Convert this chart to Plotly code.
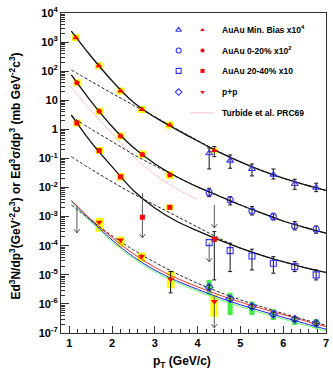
import plotly.graph_objects as go

# ---------------- data ----------------
# AuAu Min. Bias x10^4
mb_red_x = [1.155, 1.69, 2.2, 2.7, 3.35, 4.39]
mb_red_y = [1413, 155, 20.9, 4.79, 1.41, 0.186]
mb_red_sys = [0.12, 0.12, 0.12, 0.12, 0.12, 0.09]      # half height of box, decades
mb_blue_x = [4.27, 4.76, 5.27, 5.77, 6.27, 6.77]
mb_blue_y = [0.151, 0.0839, 0.0436, 0.0277, 0.0133, 0.00993]
mb_blue_hi = [0.230, 0.132, 0.0643, 0.0433, 0.0193, 0.0141]
mb_blue_lo = [0.0436, 0.0460, 0.0251, 0.0196, 0.00875, 0.00723]

# AuAu 0-20% x10^2
c020_red_x = [1.18, 1.70, 2.2, 2.71, 3.35]
c020_red_y = [39.8, 4.17, 0.589, 0.138, 0.0269]
c020_red_sys = [0.12, 0.12, 0.12, 0.13, 0.13]
c020_blue_x = [4.27, 4.76, 5.27, 5.77, 6.27, 6.77]
c020_blue_y = [0.00668, 0.00375, 0.00157, 0.00100, 0.000479, 0.000369]
c020_blue_hi = [0.00946, 0.00486, 0.00221, 0.00131, 0.000673, 0.000479]
c020_blue_lo = [0.00486, 0.00252, 0.00114, 0.000771, 0.000349, 0.000269]

# AuAu 20-40% x10
c2040_red_x = [1.18, 1.70, 2.2, 2.71, 3.35, 4.39]
c2040_red_y = [1.66, 0.186, 0.0234, 0.000955, 0.00209, 0.000166]
c2040_red_sys = [0.12, 0.12, 0.13, 0.0, 0.10, 0.08]
c2040_blue_x = [4.27, 4.76, 5.27, 5.77, 6.27, 6.77]
c2040_blue_y = [1.28e-4, 6.79e-5, 4.46e-5, 2.51e-5, 1.91e-5, 9.93e-6]
c2040_blue_hi = [1.28e-4, 1.22e-4, 7.59e-5, 4.22e-5, 2.84e-5, 1.47e-5]
c2040_blue_lo = [1.28e-4, 1.29e-5, 1.47e-5, 1.14e-5, 1.29e-5, 6.68e-6]

# p+p
pp_red_x = [1.70, 2.2, 2.69, 3.37, 4.39]
pp_red_y = [6.46e-4, 1.58e-4, 4.27e-5, 7.08e-6, 1.20e-6]
pp_red_syslo = [3.05e-4, 9.31e-5, 2.84e-5, 3.47e-6, 3.63e-7]
pp_red_syshi = [9.02e-4, 2.06e-4, 5.79e-5, 1.29e-5, 2.04e-6]
pp_blue_x = [4.27, 4.76, 5.27, 5.77, 6.27, 6.77]
pp_blue_y = [3.75e-6, 1.49e-6, 8.07e-7, 4.43e-7, 2.98e-7, 2.17e-7]
pp_blue_syslo = [2.04e-6, 4.19e-7, 4.19e-7, 2.82e-7, 1.90e-7, 1.46e-7]
pp_blue_syshi = [6.68e-6, 2.44e-6, 1.20e-6, 6.58e-7, 3.87e-7, 2.98e-7]
pp_blue_hi = [4.5e-6, 1.8e-6, 9.7e-7, 5.3e-7, 3.6e-7, 2.6e-7]
pp_blue_lo = [3.1e-6, 1.24e-6, 6.7e-7, 3.7e-7, 2.5e-7, 1.8e-7]

# extra black error bars on single red points
extra_err_x = [4.39, 4.39, 3.37]
extra_err_y = [0.186, 0.000166, 7.08e-6]
extra_err_hi = [0.255, 3.05e-4, 1.29e-5]
extra_err_lo = [0.115, 6.68e-6, 2.39e-6]

# upper limits (arrows)
arrow_x = [1.18, 2.71, 4.39, 4.27, 4.39]
arrow_top = [2.21e-3, 6.37e-3, 2.51e-3, 1.28e-4, 1.78e-6]
arrow_bottom = [2.75e-4, 1.86e-4, 4.07e-4, 2.77e-5, 1.50e-7]

# fit curves (log10 of the value)
fit_x = [1.05, 1.5, 2.0, 2.5, 3.0, 3.5, 4.0, 4.5, 5.0, 5.5, 6.0, 6.5, 7.0]
mb_fit_log10 = [3.38, 2.53, 1.67, 0.93, 0.42, 0.0, -0.4, -0.78, -1.12, -1.42, -1.68, -1.9, -2.1]
mb_ppfit_log10 = [2.04, 1.66, 1.24, 0.83, 0.43, 0.02, -0.38, -0.77, -1.12, -1.42, -1.68, -1.9, -2.1]
c020_fit_log10 = [1.87, 0.98, 0.1, -0.62, -1.18, -1.62, -1.98, -2.29, -2.6, -2.88, -3.15, -3.37, -3.57]
c020_ppfit_log10 = [0.44, 0.02, -0.42, -0.86, -1.25, -1.62, -1.98, -2.29, -2.6, -2.88, -3.15, -3.37, -3.57]
c2040_fit_log10 = [0.5, -0.42, -1.28, -2.1, -2.7, -3.15, -3.49, -3.8, -4.08, -4.33, -4.55, -4.75, -4.92]
c2040_ppfit_log10 = [-0.94, -1.36, -1.8, -2.22, -2.6, -2.98, -3.36, -3.74, -4.08, -4.33, -4.55, -4.75, -4.92]
pp_fit_blue_log10 = [-2.45, -3.12, -3.8, -4.38, -4.84, -5.2, -5.5, -5.78, -6.03, -6.25, -6.46, -6.67, -6.87]
pp_fit_red_log10 = [-2.44, -3.08, -3.72, -4.28, -4.74, -5.11, -5.41, -5.69, -5.94, -6.16, -6.37, -6.58, -6.78]
pp_fit_green_log10 = [-2.49, -3.17, -3.86, -4.44, -4.9, -5.26, -5.56, -5.84, -6.09, -6.31, -6.52, -6.73, -6.93]
pp_ppfit_log10 = [-2.6, -3.12, -3.66, -4.14, -4.57, -4.95, -5.29, -5.59, -5.86, -6.1, -6.33, -6.54, -6.74]
turbide_x = [1.02, 1.5, 2.0, 2.5, 3.0, 3.5, 3.98]
turbide_log10 = [1.49, 0.66, -0.13, -0.93, -1.55, -2.03, -2.4]

# axis ticks
y_tick_exp = [-7, -6, -5, -4, -3, -2, -1, 0, 1, 2, 3, 4]
y_tick_text = ["10<sup>-7</sup>", "10<sup>-6</sup>", "10<sup>-5</sup>", "10<sup>-4</sup>",
               "10<sup>-3</sup>", "10<sup>-2</sup>", "10<sup>-1</sup>", "1", "10",
               "10<sup>2</sup>", "10<sup>3</sup>", "10<sup>4</sup>"]
x_ticks = [1, 2, 3, 4, 5, 6, 7]

legend_labels = ["AuAu Min. Bias x10<sup>4</sup>", "AuAu 0-20% x10<sup>2</sup>",
                 "AuAu 20-40% x10", "p+p", "Turbide et al. PRC69"]

# ---------------- styling ----------------
RED = "#ff0000"
BLUE = "#3333ff"
YELLOW = "#ffff00"
GREEN = "#44ee44"
FONT = "Liberation Sans"

fig = go.Figure()


def box_path(xs, lo, hi, hw):
    X, Y = [], []
    for x, l, h in zip(xs, lo, hi):
        X += [x - hw, x + hw, x + hw, x - hw, x - hw, None]
        Y += [l, l, h, h, l, None]
    return X, Y


def add_boxes(xs, lo, hi, hw, color):
    X, Y = box_path(xs, lo, hi, hw)
    fig.add_trace(go.Scatter(x=X, y=Y, mode="lines", fill="toself", fillcolor=color,
                             line=dict(width=0, color=color), hoverinfo="skip", showlegend=False))


# systematic boxes
for xs, ys, s in [(mb_red_x, mb_red_y, mb_red_sys), (c020_red_x, c020_red_y, c020_red_sys),
                  (c2040_red_x, c2040_red_y, c2040_red_sys)]:
    xx = [x for x, d in zip(xs, s) if d > 0]
    lo = [y / 10 ** d for y, d in zip(ys, s) if d > 0]
    hi = [y * 10 ** d for y, d in zip(ys, s) if d > 0]
    add_boxes(xx, lo, hi, 0.09, YELLOW)
add_boxes(pp_red_x, pp_red_syslo, pp_red_syshi, 0.09, YELLOW)
add_boxes(pp_blue_x, pp_blue_syslo, pp_blue_syshi, 0.06, GREEN)


def add_curve(x, ylog, color, width, dash="solid"):
    fig.add_trace(go.Scatter(x=x, y=[10 ** v for v in ylog], mode="lines", line_shape="spline",
                             line=dict(color=color, width=width, dash=dash),
                             hoverinfo="skip", showlegend=False))


add_curve(fit_x, pp_fit_green_log10, "#66ff66", 1.0)
add_curve(fit_x, pp_fit_blue_log10, "#2222ff", 1.0)
add_curve(fit_x, pp_fit_red_log10, "#ff3333", 1.0)
add_curve(turbide_x, turbide_log10, "#ff6666", 0.8, "1px,1px")
for solid, dashed in [(mb_fit_log10, mb_ppfit_log10), (c020_fit_log10, c020_ppfit_log10),
                      (c2040_fit_log10, c2040_ppfit_log10)]:
    add_curve(fit_x, dashed, "#222222", 1.0, "3px,2px")
    add_curve(fit_x, solid, "#111111", 1.3)
add_curve(fit_x, pp_ppfit_log10, "#222222", 1.0, "3px,2px")


def add_err(xs, ys, hi, lo):
    fig.add_trace(go.Scatter(x=xs, y=ys, mode="markers", marker=dict(size=1, color="rgba(0,0,0,0)"),
                             error_y=dict(type="data", symmetric=False,
                                          array=[h - y for h, y in zip(hi, ys)],
                                          arrayminus=[y - l for l, y in zip(lo, ys)],
                                          color="#111111", thickness=1, width=2),
                             hoverinfo="skip", showlegend=False))


add_err(mb_blue_x, mb_blue_y, mb_blue_hi, mb_blue_lo)
add_err(c020_blue_x, c020_blue_y, c020_blue_hi, c020_blue_lo)
add_err(c2040_blue_x[1:], c2040_blue_y[1:], c2040_blue_hi[1:], c2040_blue_lo[1:])
add_err(pp_blue_x, pp_blue_y, pp_blue_hi, pp_blue_lo)
add_err(extra_err_x, extra_err_y, extra_err_hi, extra_err_lo)

# arrows
AX, AY = [], []
head_dx, head_f = 0.065, 10 ** 0.13
for x, t, b in zip(arrow_x, arrow_top, arrow_bottom):
    AX += [x, x, None, x - head_dx, x, x + head_dx, None]
    AY += [t, b, None, b * head_f, b, b * head_f, None]
fig.add_trace(go.Scatter(x=AX, y=AY, mode="lines", line=dict(color="#555555", width=1),
                         hoverinfo="skip", showlegend=False))


# markers
def add_markers(xs, ys, symbol, color, size, open_=False, xa="x", ya="y"):
    if open_:
        m = dict(symbol=symbol, size=size, color=color, line=dict(color=color, width=1.1))
    else:
        m = dict(symbol=symbol, size=size, color=color, line=dict(width=0))
    fig.add_trace(go.Scatter(x=xs, y=ys, mode="markers", marker=m, xaxis=xa, yaxis=ya,
                             hoverinfo="skip", showlegend=False))


add_markers(mb_red_x, mb_red_y, "triangle-up", RED, 6)
add_markers(c020_red_x, c020_red_y, "circle", RED, 5)
add_markers(c2040_red_x, c2040_red_y, "square", RED, 5)
add_markers(pp_red_x, pp_red_y, "triangle-down", RED, 6)
add_markers(mb_blue_x, mb_blue_y, "triangle-up-open", BLUE, 6, True)
add_markers(c020_blue_x, c020_blue_y, "circle-open", BLUE, 6, True)
add_markers(c2040_blue_x, c2040_blue_y, "square-open", BLUE, 6, True)
add_markers(pp_blue_x, pp_blue_y, "diamond-open", BLUE, 6, True)

# ---------------- legend (overlay axis in plot-area fractions) ----------------
leg_rows = [0.947, 0.883, 0.819, 0.753, 0.688]
leg_blue_x, leg_red_x, leg_text_x = 0.444, 0.534, 0.599
blue_syms = ["triangle-up-open", "circle-open", "square-open", "diamond-open"]
red_syms = ["triangle-up", "circle", "square", "triangle-down"]
for i in range(4):
    add_markers([leg_blue_x], [leg_rows[i]], blue_syms[i], BLUE, 5, True, "x2", "y2")
    add_markers([leg_red_x], [leg_rows[i]], red_syms[i], RED, 4, False, "x2", "y2")
fig.add_trace(go.Scatter(x=[0.489, 0.575], y=[leg_rows[4]] * 2, mode="lines",
                         line=dict(color="#ff6666", width=0.8, dash="1px,1px"),
                         xaxis="x2", yaxis="y2", hoverinfo="skip", showlegend=False))

annotations = []
for lab, yy in zip(legend_labels, leg_rows):
    annotations.append(dict(x=leg_text_x, y=yy, xref="paper", yref="paper", text=lab,
                            showarrow=False, xanchor="left", yanchor="middle",
                            font=dict(family=FONT, size=8.5, color="black", weight="bold")))
annotations.append(dict(x=-0.172, y=0.49, xref="paper", yref="paper",
                        text="Ed<sup>3</sup>N/dp<sup>3</sup>(GeV<sup>-2</sup>c<sup>3</sup>) or "
                             "Ed<sup>3</sup>σ/dp<sup>3</sup> (mb GeV<sup>-2</sup>c<sup>3</sup>)",
                        textangle=-90, showarrow=False, xanchor="center", yanchor="middle",
                        font=dict(family=FONT, size=12, color="black", weight="bold")))
annotations.append(dict(x=(183 - 61) / 268, y=(333 - 362) / 320, xref="paper", yref="paper",
                        text="p<sub>T</sub> (GeV/c)", showarrow=False,
                        xanchor="center", yanchor="middle",
                        font=dict(family=FONT, size=12, color="black", weight="bold")))

axis_common = dict(showline=True, linecolor="#333333", linewidth=1, mirror=True,
                   showgrid=False, zeroline=False, ticks="inside", tickcolor="#333333")

fig.update_layout(
    width=333, height=375,
    margin=dict(l=61, r=4, t=13, b=42),
    paper_bgcolor="white", plot_bgcolor="white",
    showlegend=False,
    xaxis=dict(range=[0.808, 7.0], tickmode="array", tickvals=x_ticks, ticklen=7,
               tickfont=dict(family=FONT, size=11, color="black", weight="bold"),
               minor=dict(dtick=0.2, ticks="inside", ticklen=4, tickcolor="#333333"),
               **axis_common),
    yaxis=dict(type="log", range=[-7, 4], tickmode="array",
               tickvals=[10 ** e for e in y_tick_exp], ticktext=y_tick_text, ticklen=8,
               tickfont=dict(family=FONT, size=11, color="black", weight="bold"),
               minor=dict(dtick="D1", ticks="inside", ticklen=4, tickcolor="#333333"),
               **axis_common),
    xaxis2=dict(overlaying="x", range=[0, 1], visible=False),
    yaxis2=dict(overlaying="y", range=[0, 1], visible=False),
    annotations=annotations,
)

fig.write_html("out.html")
